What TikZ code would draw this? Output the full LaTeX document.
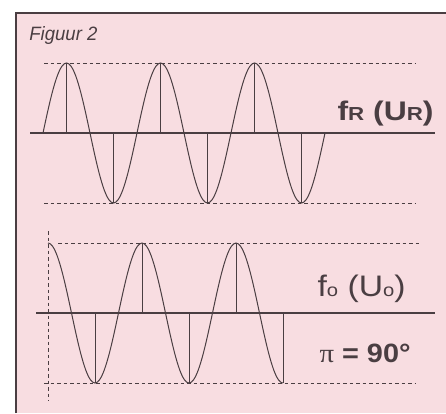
\documentclass[tikz,border=0pt]{standalone}
\usepackage{graphicx}
\usepackage{fontspec}
\setmainfont{Liberation Sans}
\newfontfamily\pifont{Liberation Serif}
\usetikzlibrary{positioning}
\definecolor{ink}{HTML}{4A3E42}
\definecolor{paper}{HTML}{F8DDE1}
\newcommand{\lowsz}[1]{{\fontsize{7}{7}\selectfont #1}}
\tikzset{
  every picture/.style={line width=0.8pt,draw=ink},
  wave/.style={draw=ink,line width=1pt,smooth},
  axis/.style={draw=ink,line width=1.2pt},
  guide/.style={draw=ink,line width=0.8pt,dash pattern=on 3.5pt off 3pt},
  stem/.style={draw=ink,line width=0.9pt},
  lbl/.style={text=ink,inner sep=0pt},
}

\begin{document}
\begin{tikzpicture}[x=1pt,y=-1pt]
  \useasboundingbox (0,0) rectangle (446,413);
  \fill[paper] (16,13) rectangle (446,413);
  \draw[line width=1.4pt] (16,413) -- (16,13) -- (446,13);
  \node[lbl,anchor=base west] (title) at (29,40) {\resizebox{68pt}{14pt}{\itshape Figuur 2}};
  % upper trace
  \draw[guide] (44,63) -- (415,63);
  \draw[guide] (44,203) -- (415,203);
  \draw[axis] (30,133) -- (435,133);
  \draw[wave] plot[domain=43:325,samples=121] (\x,{133-70*sin(3.8298*(\x-43))});
  \foreach \p in {0,1,2} {
    \draw[stem] (66.5+94*\p,63) -- (66.5+94*\p,133);
    \draw[stem] (113.5+94*\p,203) -- (113.5+94*\p,133);
  }
  \node[lbl,anchor=base east] (fR) at (434,120) {\resizebox{96pt}{19.5pt}{\bfseries f\lowsz{R} (U\lowsz{R})}};
  % lower trace, 90 deg later
  \draw[guide] (58,243) -- (422,243);
  \draw[guide] (44,383) -- (415,383);
  \draw[guide] (48,231) -- (48,401);
  \draw[axis] (36,313) -- (435,313);
  \draw[wave] plot[domain=48:283,samples=101] (\x,{313-70*cos(3.8298*(\x-48))});
  \foreach \p in {0,1,2} \draw[stem] (95+94*\p,383) -- (95+94*\p,313);
  \foreach \p in {0,1} \draw[stem] (142+94*\p,243) -- (142+94*\p,313);
  \node[lbl,anchor=base east] (fo) at (406,296) {\resizebox{88pt}{21.5pt}{f{\fontsize{6}{6}\selectfont o} (U{\fontsize{6}{6}\selectfont o})}};
  \node[lbl,anchor=base east] (phase) at (411,362) {\resizebox{91pt}{18.5pt}{{\pifont π} \bfseries= 90°}};
\end{tikzpicture}
\end{document}
